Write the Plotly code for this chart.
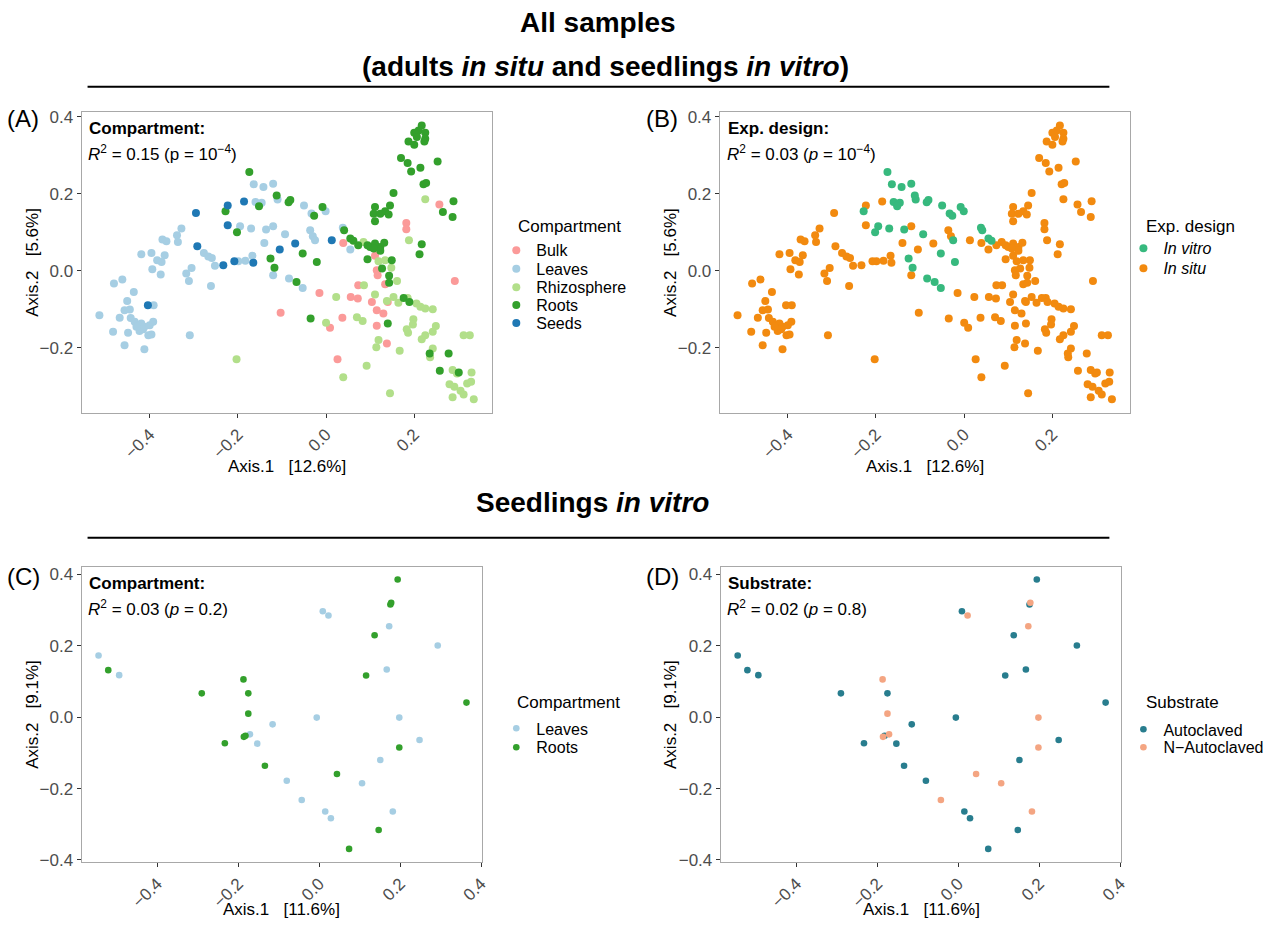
import plotly.graph_objects as go

# ---------------- DATA: all samples ordination (panels A & B) ----------------
bulk_x = [-0.103, 0.257, 0.182, 0.182, 0.039, 0.111, 0.115, 0.117, 0.292, 0.134, 0.073, -0.015,
          0.056, 0.072, 0.104, 0.140, 0.115, 0.130, 0.009, 0.037, 0.115, 0.138, 0.026]
bulk_y = [-0.109, 0.172, 0.124, 0.108, 0.072, 0.039, 0.001, -0.012, -0.027, -0.035, -0.038, -0.058,
          -0.068, -0.072, -0.081, -0.081, -0.103, -0.111, -0.148, -0.122, -0.143, -0.189, -0.230]

leaves_situ_x = [-0.514, -0.483, -0.481, -0.462, -0.436, -0.451, -0.468, -0.457, -0.445, -0.391, -0.443,
                 -0.434, -0.427, -0.419, -0.412, -0.400, -0.392, -0.423, -0.415, -0.403, -0.396, -0.449,
                 -0.457, -0.412, -0.430,
                 -0.419, -0.396, -0.383, -0.373, -0.366, -0.394, -0.375, -0.371, -0.362, -0.338,
                 -0.336, -0.328, -0.305, -0.317, -0.311, -0.261, -0.309, -0.277, -0.267, -0.259,
                 -0.252, -0.199, -0.183, -0.167, -0.120, -0.140, -0.120, -0.036, -0.030, 0.055]
leaves_situ_y = [-0.116, -0.159, -0.033, -0.023, -0.055, -0.079, -0.122, -0.103, -0.101, -0.090, -0.123,
                 -0.133, -0.142, -0.137, -0.146, -0.142, -0.133, -0.157, -0.152, -0.168, -0.166, -0.161,
                 -0.194, -0.204, -0.146,
                 0.043, 0.046, 0.027, 0.023, 0.040, 0.004, -0.010, 0.081, 0.077, 0.092,
                 0.075, 0.110, 0.007, -0.007, -0.027, -0.040, -0.168, 0.046, 0.037, 0.033,
                 0.013, 0.025, 0.026, 0.039, 0.116, 0.072, -0.012, 0.105, 0.090, 0.055]

leaves_vitro_x = [-0.164, -0.142, -0.120, -0.110, -0.160, -0.146, -0.195, -0.170, -0.136, -0.093,
                  -0.050, -0.033, -0.001, 0.038, -0.025, -0.084, -0.053]
leaves_vitro_y = [0.225, 0.218, 0.226, 0.185, 0.179, 0.177, 0.116, 0.110, 0.107, 0.095,
                  0.170, 0.149, 0.155, 0.112, 0.079, -0.020, -0.045]

rhizo_x = [-0.203, 0.225, 0.188, 0.085, 0.119, 0.134, 0.148, 0.161, 0.086, 0.023,
           0.111, 0.138, 0.153, 0.164, 0.185, 0.205, 0.214, 0.225, 0.242, 0.000,
           0.070, 0.083, 0.198, 0.197, 0.186, 0.183, 0.249, 0.242, 0.225, 0.217,
           0.312, 0.326, 0.119, 0.114, 0.167, 0.242, 0.236, 0.092, 0.039, 0.287,
           0.297, 0.330, 0.280, 0.291, 0.320, 0.329, 0.305, 0.312, 0.287, 0.335, 0.145]
rhizo_y = [-0.230, 0.186, 0.079, 0.075, 0.025, 0.027, 0.008, -0.027, -0.038, -0.068,
           -0.062, -0.079, -0.068, -0.083, -0.071, -0.085, -0.094, -0.098, -0.100, -0.135,
           -0.121, -0.131, -0.126, -0.140, -0.161, -0.152, -0.144, -0.159, -0.168, -0.178,
           -0.168, -0.168, -0.180, -0.199, -0.208, -0.202, -0.225, -0.247, -0.277, -0.258,
           -0.267, -0.265, -0.295, -0.302, -0.293, -0.289, -0.312, -0.322, -0.329, -0.334, -0.319]

roots_situ_x = [0.217, 0.210, 0.200, 0.225, 0.206, 0.225, 0.187, 0.200, 0.223, 0.170,
                0.185, 0.253, 0.193, 0.214, 0.221, 0.227, 0.153, 0.289, 0.265, 0.287,
                0.111, 0.145, 0.134, 0.108, 0.123, 0.142, 0.111, 0.217, 0.212, 0.073,
                0.094, 0.100, 0.111, 0.123, 0.132, 0.123, 0.108, 0.094, 0.149, 0.127,
                0.143, 0.143, 0.176, 0.189, -0.035, 0.140, 0.235, 0.278, 0.258, 0.301]
roots_situ_y = [0.378, 0.365, 0.359, 0.359, 0.348, 0.343, 0.336, 0.328, 0.336, 0.293,
                0.280, 0.284, 0.258, 0.268, 0.225, 0.228, 0.202, 0.181, 0.153, 0.140,
                0.166, 0.170, 0.155, 0.148, 0.148, 0.146, 0.129, 0.069, 0.043, 0.066,
                0.066, 0.062, 0.071, 0.062, 0.073, 0.052, 0.058, 0.030, 0.027, 0.006,
                -0.013, -0.031, -0.071, -0.081, -0.124, -0.137, -0.215, -0.215, -0.260, -0.265]

roots_vitro_x = [-0.174, -0.112, -0.152, -0.228, -0.202, -0.126, -0.117, -0.085, -0.081,
                 -0.027, -0.008, 0.041, 0.055, 0.062, -0.053, -0.021, -0.067]
roots_vitro_y = [0.257, 0.196, 0.168, 0.155, 0.100, 0.032, 0.008, 0.178, 0.184,
                 0.143, 0.166, 0.105, 0.084, 0.078, 0.045, 0.023, -0.029]

seeds_x = [-0.223, -0.186, -0.295, -0.223, -0.070, -0.105, -0.292, -0.233, -0.208, -0.165, -0.404, 0.013]
seeds_y = [0.170, 0.180, 0.150, 0.118, 0.071, 0.055, 0.064, 0.014, 0.025, 0.021, -0.090, 0.079]

# ---------------- DATA: seedlings in vitro ordination (panels C & D) ----------------
sl_leaves_auto_x = [-0.545, -0.494, 0.009, 0.293, 0.167, -0.006, -0.115, -0.153, 0.248, 0.151, -0.080, 0.015, 0.029]
sl_leaves_auto_y = [0.173, 0.118, 0.297, 0.201, 0.134, -0.001, -0.020, -0.074, -0.064, -0.120, -0.178, -0.264, -0.283]
sl_leaves_nauto_x = [0.023, 0.173, 0.198, -0.171, 0.106, -0.043, 0.182]
sl_leaves_nauto_y = [0.285, 0.255, -0.001, -0.048, -0.185, -0.232, -0.264]
sl_roots_auto_x = [0.194, 0.176, 0.137, 0.116, -0.521, -0.290, -0.175, 0.364, -0.233, -0.182, -0.134, 0.147, 0.074]
sl_roots_auto_y = [0.386, 0.316, 0.230, 0.117, 0.132, 0.067, 0.067, 0.041, -0.073, -0.052, -0.136, -0.316, -0.369]
sl_roots_nauto_x = [0.178, -0.187, -0.175, -0.186, 0.198, 0.044]
sl_roots_nauto_y = [0.321, 0.106, 0.010, -0.055, -0.085, -0.159]

# tick positions
ticks_all_x = [-0.4, -0.2, 0.0, 0.2]
ticks_all_y = [-0.2, 0.0, 0.2, 0.4]
ticks_sl = [-0.4, -0.2, 0.0, 0.2, 0.4]

# ---------------- STYLE ----------------
W, H = 1286, 925
# screen-pixel -> paper mapping (calibrated against the rendered page)
SX, BX = 0.992, 0.6
SY, BY = 0.989, 3.2
def fx(p): return ((p - BX) / SX) / W
def fy(p): return 1 - ((p - BY) / SY) / H

FONT = "Liberation Sans, Arial, Helvetica, sans-serif"
C_BULK, C_LEAVES, C_RHIZO, C_ROOTS, C_SEEDS = "#FB9A99", "#A6CEE3", "#B2DF8A", "#33A02C", "#1F78B4"
C_VITRO, C_SITU = "#37B97E", "#F28A0F"
C_AUTO, C_NAUTO = "#287D8E", "#F4A582"
S_ALL, S_SL = 8, 6.6

fig = go.Figure()
legends = {}
LEG_FONT = dict(size=16, family=FONT, color="black")

def add(xs, ys, name, color, size, ax, leg, lx, ly):
    fig.add_trace(go.Scatter(
        x=xs, y=ys, mode="markers", name=name, showlegend=True,
        marker=dict(color=color, size=size, line=dict(width=0)),
        xaxis="x" + ax, yaxis="y" + ax, legend=leg,
        hoverinfo="x+y+name"))
    legends[leg] = dict(x=fx(lx), y=fy(ly), xanchor="left", yanchor="middle",
                        bgcolor="rgba(0,0,0,0)", font=LEG_FONT, itemwidth=30, visible=True)

# Panel A
add(bulk_x, bulk_y, "Bulk", C_BULK, S_ALL, "", "legend", 496, 250)
add(leaves_situ_x + leaves_vitro_x, leaves_situ_y + leaves_vitro_y, "Leaves", C_LEAVES, S_ALL, "", "legend2", 496, 268.5)
add(rhizo_x, rhizo_y, "Rhizosphere", C_RHIZO, S_ALL, "", "legend3", 496, 287)
add(roots_situ_x + roots_vitro_x, roots_situ_y + roots_vitro_y, "Roots", C_ROOTS, S_ALL, "", "legend4", 496, 305)
add(seeds_x, seeds_y, "Seeds", C_SEEDS, S_ALL, "", "legend5", 496, 323)

# Panel B
situ_x = bulk_x + leaves_situ_x + rhizo_x + roots_situ_x + seeds_x
situ_y = bulk_y + leaves_situ_y + rhizo_y + roots_situ_y + seeds_y
add(situ_x, situ_y, "<i>In situ</i>", C_SITU, S_ALL, "2", "legend7", 1122, 268)
add(leaves_vitro_x + roots_vitro_x, leaves_vitro_y + roots_vitro_y, "<i>In vitro</i>", C_VITRO, S_ALL, "2", "legend6", 1122, 248)

# Panel C
add(sl_leaves_auto_x + sl_leaves_nauto_x, sl_leaves_auto_y + sl_leaves_nauto_y, "Leaves", C_LEAVES, S_SL, "3", "legend8", 496, 729)
add(sl_roots_auto_x + sl_roots_nauto_x, sl_roots_auto_y + sl_roots_nauto_y, "Roots", C_ROOTS, S_SL, "3", "legend9", 496, 748)

# Panel D
add(sl_leaves_auto_x + sl_roots_auto_x, sl_leaves_auto_y + sl_roots_auto_y, "Autoclaved", C_AUTO, S_SL, "4", "legend10", 1122, 730)
add(sl_leaves_nauto_x + sl_roots_nauto_x, sl_leaves_nauto_y + sl_roots_nauto_y, "N\u2212Autoclaved", C_NAUTO, S_SL, "4", "legend11", 1122, 748)

def ax_style(**kw):
    d = dict(showline=True, mirror=True, linecolor="#A8A8A8", linewidth=1,
             ticks="outside", ticklen=4, tickwidth=1, tickcolor="#333333",
             tickfont=dict(size=17, color="#4D4D4D", family=FONT),
             showgrid=False, zeroline=False, tickformat=".1f")
    d.update(kw)
    return d

rngA_x, rngA_y = [-0.5545, 0.377], [-0.370, 0.414]
rngC_x, rngC_y = [-0.587, 0.403], [-0.406, 0.422]

layout = dict(
    width=W, height=H, margin=dict(l=0, r=0, t=0, b=0),
    paper_bgcolor="white", plot_bgcolor="white", showlegend=True,
    font=dict(family=FONT, color="black"),
    xaxis=ax_style(domain=[fx(82), fx(492)], range=rngA_x, anchor="y", tickvals=ticks_all_x, tickangle=-45),
    yaxis=ax_style(domain=[fy(413), fy(111)], range=rngA_y, anchor="x", tickvals=ticks_all_y),
    xaxis2=ax_style(domain=[fx(719), fx(1129)], range=rngA_x, anchor="y2", tickvals=ticks_all_x, tickangle=-45),
    yaxis2=ax_style(domain=[fy(413), fy(111)], range=rngA_y, anchor="x2", tickvals=ticks_all_y),
    xaxis3=ax_style(domain=[fx(82), fx(482)], range=rngC_x, anchor="y3", tickvals=ticks_sl, tickangle=-45),
    yaxis3=ax_style(domain=[fy(863), fy(567)], range=rngC_y, anchor="x3", tickvals=ticks_sl),
    xaxis4=ax_style(domain=[fx(720), fx(1120)], range=rngC_x, anchor="y4", tickvals=ticks_sl, tickangle=-45),
    yaxis4=ax_style(domain=[fy(863), fy(567)], range=rngC_y, anchor="x4", tickvals=ticks_sl),
)
layout.update(legends)
fig.update_layout(**layout)

NB = "\u00a0"
def ann(text, x, y, size=17, xanchor="left", textangle=0, color="black"):
    fig.add_annotation(text=text, x=fx(x), y=fy(y), xref="paper", yref="paper",
                       xanchor=xanchor, yanchor="middle", showarrow=False, textangle=textangle,
                       font=dict(size=size, family=FONT, color=color))

# Section titles
ann("<b>All samples</b>", 598, 22, size=28, xanchor="center")
ann("<b>(adults <i>in situ</i> and seedlings <i>in vitro</i>)</b>", 605, 66, size=28, xanchor="center")
ann("<b>Seedlings <i>in vitro</i></b>", 592, 503, size=28, xanchor="center")

# Panel letters
ann("(A)", 6, 118, size=24)
ann("(B)", 643, 118, size=24)
ann("(C)", 6, 577, size=24)
ann("(D)", 643, 577, size=24)

# In-panel statistics
ann("<b>Compartment:</b>", 87, 128)
ann("<i>R</i><sup>2</sup> = 0.15 (p = 10<sup>\u22124</sup>)", 86, 152)
ann("<b>Exp. design:</b>", 725, 128)
ann("<i>R</i><sup>2</sup> = 0.03 (<i>p</i> = 10<sup>\u22124</sup>)", 724, 152)
ann("<b>Compartment:</b>", 87, 584)
ann("<i>R</i><sup>2</sup> = 0.03 (<i>p</i> = 0.2)", 86, 608)
ann("<b>Substrate:</b>", 725, 584)
ann("<i>R</i><sup>2</sup> = 0.02 (<i>p</i> = 0.8)", 724, 608)

# Axis titles
ann("Axis.1" + NB * 3 + "[12.6%]", 287, 467, xanchor="center")
ann("Axis.1" + NB * 3 + "[12.6%]", 924, 467, xanchor="center")
ann("Axis.1" + NB * 3 + "[11.6%]", 282, 911, xanchor="center")
ann("Axis.1" + NB * 3 + "[11.6%]", 920, 911, xanchor="center")
ann("Axis.2" + NB * 3 + "[5.6%]", 33, 262, xanchor="center", textangle=-90)
ann("Axis.2" + NB * 3 + "[5.6%]", 670, 262, xanchor="center", textangle=-90)
ann("Axis.2" + NB * 3 + "[9.1%]", 33, 715, xanchor="center", textangle=-90)
ann("Axis.2" + NB * 3 + "[9.1%]", 670, 715, xanchor="center", textangle=-90)

# Legend titles
ann("Compartment", 516, 226)
ann("Exp. design", 1143, 226)
ann("Compartment", 515, 703)
ann("Substrate", 1143, 703)

# Section rules
for yy in (86, 538):
    fig.add_shape(type="line", xref="paper", yref="paper", x0=fx(88), x1=fx(1108),
                  y0=fy(yy), y1=fy(yy), line=dict(color="black", width=2))

# remove the default 8px page margin so the figure fills the window exactly
fig.write_html("out.html", config={"displayModeBar": False},
               post_script="document.body.style.margin='0px';")
